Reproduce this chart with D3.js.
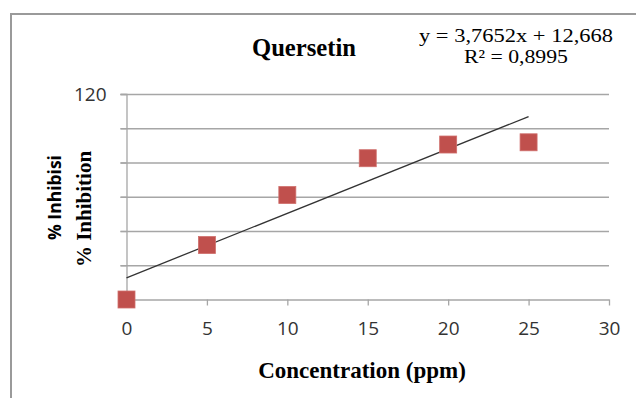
<!DOCTYPE html>
<html>
<head>
<meta charset="utf-8">
<script src="https://cdn.jsdelivr.net/npm/d3@7"></script>
<style>
  html, body { margin: 0; padding: 0; background: #fff; }
  svg { display: block; }
</style>
</head>
<body>
<svg id="chart" width="636" height="398"></svg>
<script>
// ---- data ----
const concentration = [0, 5, 10, 15, 20, 25];
const inhibition = [0, 31.8, 61.0, 82.5, 90.5, 91.8];
const xTicks = [0, 5, 10, 15, 20, 25, 30];
const yTicks = [0, 20, 40, 60, 80, 100, 120];
const yTickLabelsShown = [120];
const trendSlope = 3.7652;
const trendIntercept = 12.668;
const trendRange = [0, 25];
const titleText = "Quersetin";
const equationLines = ["y = 3,7652x + 12,668", "R² = 0,8995"];
const xTitle = "Concentration (ppm)";
const yTitles = ["% Inhibisi", "% Inhibition"];

// ---- layout ----
const svg = d3.select("#chart");
const plotLeft = 126.5, plotRight = 609, plotTop = 94, plotBottom = 299.5;
const x = d3.scaleLinear().domain([0, 30]).range([plotLeft, plotRight]);
const y = d3.scaleLinear().domain([0, 120]).range([plotBottom, plotTop]);
const gridColor = "#a6a6a6";

// outer frame (only left and top visible)
svg.append("rect")
  .attr("x", 11).attr("y", 14)
  .attr("width", 800).attr("height", 600)
  .attr("fill", "none").attr("stroke", "#9a9a9a").attr("stroke-width", 2);

// gridlines (extend left past the axis like the ticks)
const grid = svg.append("g").attr("transform", `translate(${plotRight},0)`)
  .call(d3.axisLeft(y).tickValues(yTicks.filter(d => d !== 0)).tickSize(plotRight - plotLeft + 6).tickFormat(""));
grid.select(".domain").remove();
grid.selectAll("line").attr("stroke", gridColor).attr("stroke-width", 1.3);

// y axis
const yAxis = svg.append("g").attr("transform", `translate(${plotLeft},0)`)
  .call(d3.axisLeft(y).tickValues(yTicks).tickSize(6).tickPadding(14)
    .tickFormat(d => yTickLabelsShown.includes(d) ? String(d) : ""));
yAxis.select(".domain").attr("stroke", gridColor).attr("stroke-width", 1.3);
yAxis.selectAll("line").attr("stroke", gridColor).attr("stroke-width", 1.3);
yAxis.selectAll("text").attr("font-family", "'Open Sans', sans-serif")
  .attr("font-size", 19).attr("fill", "#333");

// x axis
const xAxis = svg.append("g").attr("transform", `translate(0,${plotBottom})`)
  .call(d3.axisBottom(x).tickValues(xTicks).tickSize(6).tickPadding(16).tickSizeOuter(0));
xAxis.select(".domain").attr("stroke", gridColor).attr("stroke-width", 1.3);
xAxis.selectAll("line").attr("stroke", gridColor).attr("stroke-width", 1.3);
xAxis.selectAll("text").attr("font-family", "'Open Sans', sans-serif")
  .attr("font-size", 19).attr("fill", "#333");

// trend line
const trend = trendRange.map(v => [v, trendSlope * v + trendIntercept]);
svg.append("path")
  .datum(trend)
  .attr("d", d3.line().x(d => x(d[0])).y(d => y(d[1])))
  .attr("stroke", "#333").attr("stroke-width", 1.3).attr("fill", "none");

// markers
const ms = 17;
svg.append("g").selectAll("rect")
  .data(concentration.map((c, i) => [c, inhibition[i]]))
  .join("rect")
  .attr("x", d => x(d[0]) - ms / 2)
  .attr("y", d => y(d[1]) - ms / 2)
  .attr("width", ms).attr("height", ms)
  .attr("fill", "#c0504d").attr("stroke", "#cf6f6c").attr("stroke-width", 0.8);

// title
svg.append("text")
  .attr("x", 304).attr("y", 55.5)
  .attr("text-anchor", "middle")
  .attr("font-family", "'Liberation Serif', 'Times New Roman', serif")
  .attr("font-weight", "bold").attr("font-size", 25)
  .attr("textLength", 104).attr("lengthAdjust", "spacingAndGlyphs")
  .text(titleText);

// equation
const eqWidths = [194, 104];
svg.append("g").selectAll("text")
  .data(equationLines)
  .join("text")
  .attr("x", 516).attr("y", (d, i) => 41.5 + i * 21)
  .attr("text-anchor", "middle")
  .attr("font-family", "'Liberation Serif', 'Times New Roman', serif")
  .attr("font-size", 19.5)
  .attr("textLength", (d, i) => eqWidths[i]).attr("lengthAdjust", "spacingAndGlyphs")
  .text(d => d);

// x title
svg.append("text")
  .attr("x", 362).attr("y", 378)
  .attr("text-anchor", "middle")
  .attr("font-family", "'Liberation Serif', 'Times New Roman', serif")
  .attr("font-weight", "bold").attr("font-size", 23)
  .text(xTitle);

// y titles
svg.append("text")
  .attr("transform", "translate(61,197.5) rotate(-90)")
  .attr("text-anchor", "middle")
  .attr("font-family", "'Open Sans', sans-serif")
  .attr("font-weight", "bold").attr("font-size", 17.5)
  .text(yTitles[0]);
svg.append("text")
  .attr("transform", "translate(91,209) rotate(-90)")
  .attr("text-anchor", "middle")
  .attr("font-family", "'Liberation Serif', 'Times New Roman', serif")
  .attr("font-weight", "bold").attr("font-size", 21)
  .text(yTitles[1]);
</script>
</body>
</html>
